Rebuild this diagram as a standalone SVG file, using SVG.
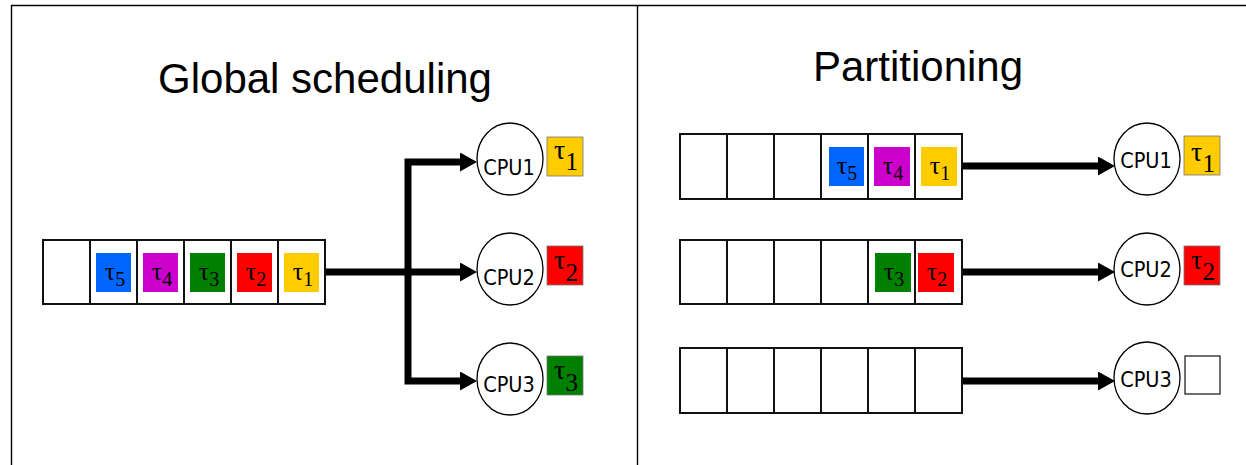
<svg xmlns="http://www.w3.org/2000/svg" width="1246" height="465" viewBox="0 0 1246 465">
<style>
.frame{stroke:#000;stroke-width:1.4;fill:none}
.title{font-family:"Liberation Sans",Arial,sans-serif;font-size:42px;fill:#000;text-anchor:middle}
.cell{fill:#fff;stroke:#111;stroke-width:2}
.cpu{fill:#fff;stroke:#000;stroke-width:1.3}
.cpul{font-family:"DejaVu Sans Condensed","DejaVu Sans",sans-serif;font-size:21.5px;fill:#000;text-anchor:middle}
.qt{font-family:"Liberation Serif","Times New Roman",serif;font-size:26px;fill:#000;text-anchor:middle}
.ct{font-family:"Liberation Serif","Times New Roman",serif;font-size:28px;fill:#000;text-anchor:middle}
.conn{fill:none;stroke:#000;stroke-width:7;stroke-linejoin:miter}
.sq{stroke:#777;stroke-width:0.8}
.b{fill:#0066ff}.m{fill:#cc00cc}.g{fill:#008000}.r{fill:#ff0000}.y{fill:#ffcc00}
</style>
<defs>
<marker id="ah" markerUnits="userSpaceOnUse" markerWidth="18" markerHeight="20" refX="2" refY="9.5" orient="auto-start-reverse">
<path d="M0,0 L17,9.5 L0,19 Z" fill="#000"/>
</marker>
</defs>
<rect width="1246" height="465" fill="#fff"/>
<g id="frame">
<path class="frame" d="M11.5,465 V5.5 H1246 M637.5,5.5 V465"/>
</g>
<g id="titles">
<text class="title" x="325" y="93">Global scheduling</text>
<text class="title" x="918" y="81">Partitioning</text>
</g>
<g id="connectors">
<path class="conn" d="M325,272 H462" marker-end="url(#ah)"/>
<path class="conn" d="M462,381 H408 V162 H462" marker-start="url(#ah)" marker-end="url(#ah)"/>
<path class="conn" d="M962,166 H1100" marker-end="url(#ah)"/>
<path class="conn" d="M962,272 H1100" marker-end="url(#ah)"/>
<path class="conn" d="M962,381 H1100" marker-end="url(#ah)"/>
</g>
<g id="global-queue">
<rect class="cell" x="43" y="240" width="47" height="64"/>
<rect class="cell" x="90" y="240" width="47" height="64"/>
<rect class="cell" x="137" y="240" width="47" height="64"/>
<rect class="cell" x="184" y="240" width="47" height="64"/>
<rect class="cell" x="231" y="240" width="47" height="64"/>
<rect class="cell" x="278" y="240" width="47" height="64"/>
<rect class="b" x="96" y="253" width="35" height="39"/>
<rect class="m" x="143" y="253" width="35" height="39"/>
<rect class="g" x="190" y="253" width="35" height="39"/>
<rect class="r" x="237" y="253" width="35" height="39"/>
<rect class="y" x="284" y="253" width="35" height="39"/>
<text class="qt" x="115" y="280">τ<tspan font-size="20" dy="6">5</tspan></text>
<text class="qt" x="162" y="280">τ<tspan font-size="20" dy="6">4</tspan></text>
<text class="qt" x="209" y="280">τ<tspan font-size="20" dy="6">3</tspan></text>
<text class="qt" x="256" y="280">τ<tspan font-size="20" dy="6">2</tspan></text>
<text class="qt" x="303" y="280">τ<tspan font-size="20" dy="6">1</tspan></text>
</g>
<g id="g-cpu1">
<ellipse class="cpu" cx="510" cy="159" rx="33" ry="36"/>
<text class="cpul" x="509" y="175">CPU1</text>
<rect class="y sq" x="547" y="137" width="36" height="39"/>
<text class="ct" x="566" y="159">τ<tspan font-size="25" dy="11">1</tspan></text>
</g>
<g id="g-cpu2">
<ellipse class="cpu" cx="510" cy="269" rx="33" ry="36"/>
<text class="cpul" x="509" y="285">CPU2</text>
<rect class="r sq" x="547" y="246" width="36" height="39"/>
<text class="ct" x="566" y="269">τ<tspan font-size="25" dy="12">2</tspan></text>
</g>
<g id="g-cpu3">
<ellipse class="cpu" cx="510" cy="379" rx="33" ry="36"/>
<text class="cpul" x="509" y="392">CPU3</text>
<rect class="g sq" x="547" y="356" width="36" height="39"/>
<text class="ct" x="566" y="379">τ<tspan font-size="25" dy="12">3</tspan></text>
</g>
<g id="p-queue1">
<rect class="cell" x="680" y="134" width="47" height="65"/>
<rect class="cell" x="727" y="134" width="47" height="65"/>
<rect class="cell" x="774" y="134" width="47" height="65"/>
<rect class="cell" x="821" y="134" width="47" height="65"/>
<rect class="cell" x="868" y="134" width="47" height="65"/>
<rect class="cell" x="915" y="134" width="47" height="65"/>
<rect class="b" x="829" y="147" width="35" height="39"/>
<rect class="m" x="874" y="147" width="36" height="39"/>
<rect class="y" x="921" y="147" width="36" height="39"/>
<text class="qt" x="847" y="174">τ<tspan font-size="20" dy="6">5</tspan></text>
<text class="qt" x="893" y="174">τ<tspan font-size="20" dy="6">4</tspan></text>
<text class="qt" x="940" y="174">τ<tspan font-size="20" dy="6">1</tspan></text>
</g>
<g id="p-queue2">
<rect class="cell" x="680" y="240" width="47" height="64"/>
<rect class="cell" x="727" y="240" width="47" height="64"/>
<rect class="cell" x="774" y="240" width="47" height="64"/>
<rect class="cell" x="821" y="240" width="47" height="64"/>
<rect class="cell" x="868" y="240" width="47" height="64"/>
<rect class="cell" x="915" y="240" width="47" height="64"/>
<rect class="g" x="875" y="253" width="36" height="39"/>
<rect class="r" x="918" y="253" width="36" height="39"/>
<text class="qt" x="894" y="280">τ<tspan font-size="20" dy="6">3</tspan></text>
<text class="qt" x="937" y="280">τ<tspan font-size="20" dy="6">2</tspan></text>
</g>
<g id="p-queue3">
<rect class="cell" x="680" y="348" width="47" height="65"/>
<rect class="cell" x="727" y="348" width="47" height="65"/>
<rect class="cell" x="774" y="348" width="47" height="65"/>
<rect class="cell" x="821" y="348" width="47" height="65"/>
<rect class="cell" x="868" y="348" width="47" height="65"/>
<rect class="cell" x="915" y="348" width="47" height="65"/>
</g>
<g id="p-cpu1">
<ellipse class="cpu" cx="1147" cy="159" rx="33" ry="36"/>
<text class="cpul" x="1146" y="168">CPU1</text>
<rect class="y sq" x="1184" y="136" width="36" height="39"/>
<text class="ct" x="1203" y="161">τ<tspan font-size="25" dy="11">1</tspan></text>
</g>
<g id="p-cpu2">
<ellipse class="cpu" cx="1147" cy="269" rx="33" ry="36"/>
<text class="cpul" x="1146" y="277">CPU2</text>
<rect class="r sq" x="1184" y="246" width="36" height="39"/>
<text class="ct" x="1203" y="269">τ<tspan font-size="25" dy="11">2</tspan></text>
</g>
<g id="p-cpu3">
<ellipse class="cpu" cx="1147" cy="378" rx="33" ry="36"/>
<text class="cpul" x="1146" y="387">CPU3</text>
<rect x="1185" y="356" width="35" height="38" fill="#fff" stroke="#222" stroke-width="1.3"/>
</g>
</svg>
